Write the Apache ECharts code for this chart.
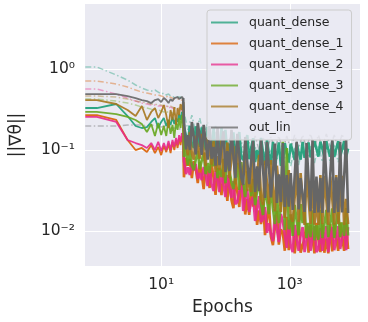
<!DOCTYPE html>
<html>
<head>
<meta charset="utf-8">
<script src="https://cdn.jsdelivr.net/npm/echarts@6/dist/echarts.min.js"></script>
<style>
html, body { margin: 0; padding: 0; background: #fff; }
#main { width: 368px; height: 322px; }
</style>
</head>
<body>
<div id="main"></div>
<script>
var myChart = echarts.init(document.getElementById('main'));

// names in the legend
var names = ['quant_dense', 'quant_dense_1', 'quant_dense_2', 'quant_dense_3', 'quant_dense_4', 'out_lin'];
var colors = ['#1b9e77', '#d95f02', '#e7298a', '#66a61e', '#a6761d', '#666666'];

// epoch 0 is clipped to the left edge of the log axis, so first point sits on it
var earlyEpochs = [0.66, 1, 2, 3, 4, 5, 6, 7, 8, 9, 10, 11, 12, 13, 14, 15, 16, 17, 18, 19, 20, 21, 22];
var denseEpochs = [22.6, 24.3, 26.0, 27.9, 30.0, 32.2, 34.5, 37.1, 39.8, 42.7,
    45.8, 49.2, 52.8, 56.7, 60.8, 65.3, 70.1, 75.2, 80.7, 86.7,
    93.0, 99.9, 107, 115, 124, 133, 142, 153, 164, 176,
    189, 203, 218, 234, 251, 269, 289, 310, 333, 357,
    384, 412, 442, 474, 509, 547, 587, 630, 676, 726,
    779, 836, 898, 964, 1034, 1110, 1192, 1279, 1373, 1474,
    1582, 1698, 1823, 1957, 2100, 2255, 2420, 2598, 2789, 2993,
    3213, 3449, 3702, 3974, 4265, 4578, 4914, 5275, 5662, 6078,
    6524, 7003, 7517, 8069];

// solid lines
var qdEarly = [0.330, 0.330, 0.370, 0.263, 0.198, 0.187, 0.192, 0.222, 0.248, 0.187, 0.222, 0.248, 0.198, 0.235, 0.204, 0.256, 0.209, 0.248, 0.222, 0.278, 0.235, 0.295, 0.270];
var q1Early = [0.270, 0.270, 0.235, 0.133, 0.100, 0.106, 0.0944, 0.115, 0.0917, 0.109, 0.0866, 0.112, 0.0944, 0.119, 0.0917, 0.126, 0.100, 0.133, 0.106, 0.141, 0.115, 0.149, 0.133];
var q2Early = [0.256, 0.256, 0.222, 0.133, 0.122, 0.115, 0.106, 0.122, 0.100, 0.126, 0.097, 0.122, 0.100, 0.129, 0.100, 0.133, 0.109, 0.141, 0.115, 0.153, 0.126, 0.162, 0.145];
var q3Early = [0.295, 0.295, 0.278, 0.256, 0.235, 0.209, 0.167, 0.209, 0.149, 0.216, 0.153, 0.198, 0.149, 0.235, 0.158, 0.204, 0.141, 0.222, 0.177, 0.248, 0.187, 0.270, 0.204];
var q4Early = [0.414, 0.414, 0.370, 0.312, 0.263, 0.349, 0.235, 0.295, 0.330, 0.248, 0.295, 0.359, 0.270, 0.187, 0.312, 0.235, 0.339, 0.204, 0.330, 0.270, 0.370, 0.312, 0.391];
var olEarly = [0.491, 0.491, 0.491, 0.464, 0.438, 0.414, 0.402, 0.380, 0.414, 0.426, 0.391, 0.438, 0.414, 0.380, 0.426, 0.402, 0.438, 0.414, 0.451, 0.426, 0.438, 0.451, 0.438];

var qdDense = [0.192, 0.151, 0.115, 0.198, 0.118, 0.106, 0.196, 0.145, 0.109, 0.190,
    0.139, 0.100, 0.192, 0.135, 0.102, 0.185, 0.094, 0.133, 0.096, 0.187,
    0.124, 0.177, 0.087, 0.120, 0.089, 0.165, 0.080, 0.116, 0.167, 0.082,
    0.0752, 0.107, 0.153, 0.0770, 0.105, 0.140, 0.0711, 0.100, 0.0720, 0.141,
    0.093, 0.0653, 0.133, 0.090, 0.0660, 0.126, 0.0635, 0.089, 0.124, 0.0640,
    0.0691, 0.122, 0.092, 0.0700, 0.120, 0.096, 0.0752, 0.122, 0.094, 0.0760,
    0.126, 0.080, 0.100, 0.124, 0.081, 0.082, 0.129, 0.103, 0.083, 0.127,
    0.103, 0.082, 0.129, 0.101, 0.083, 0.128, 0.082, 0.103, 0.129, 0.084,
    0.102, 0.129, 0.082, 0.104];
var q1Dense = [0.0460, 0.080, 0.064, 0.078, 0.0451, 0.0731, 0.058, 0.0391, 0.0711, 0.050,
    0.0330, 0.0672, 0.050, 0.0340, 0.0700, 0.045, 0.0280, 0.0600, 0.040, 0.0278,
    0.0535, 0.038, 0.0235, 0.0550, 0.0240, 0.0192, 0.0451, 0.030, 0.0198, 0.0470,
    0.0370, 0.0160, 0.025, 0.0158, 0.0359, 0.020, 0.0300, 0.0119, 0.018, 0.0122,
    0.0228, 0.0089, 0.014, 0.0215, 0.0085, 0.0067, 0.0110, 0.0178, 0.0068, 0.0105,
    0.0095, 0.0057, 0.0150, 0.0058, 0.0145, 0.0135, 0.0053, 0.0085, 0.0129, 0.0054,
    0.0053, 0.0082, 0.0125, 0.0054, 0.0120, 0.0080, 0.0053, 0.0126, 0.0078, 0.0055,
    0.0124, 0.0054, 0.0081, 0.0053, 0.0122, 0.0056, 0.0125, 0.0082, 0.0057, 0.0128,
    0.0083, 0.0057, 0.0126, 0.0060];
var q2Dense = [0.0731, 0.0505, 0.061, 0.0491, 0.0711, 0.056, 0.0672, 0.0439, 0.052, 0.0426,
    0.0617, 0.048, 0.0359, 0.0635, 0.0380, 0.0312, 0.0550, 0.042, 0.0303, 0.0566,
    0.037, 0.0263, 0.0491, 0.034, 0.0256, 0.0414, 0.0215, 0.0228, 0.031, 0.0426,
    0.0177, 0.025, 0.0330, 0.0172, 0.023, 0.0263, 0.0133, 0.019, 0.0270, 0.0129,
    0.014, 0.0198, 0.0095, 0.0125, 0.0092, 0.0075, 0.0158, 0.0105, 0.0073, 0.0162,
    0.0133, 0.0090, 0.0062, 0.0137, 0.0065, 0.0055, 0.0119, 0.0080, 0.0057, 0.0088,
    0.0112, 0.0055, 0.0078, 0.0115, 0.0057, 0.0082, 0.0115, 0.0055, 0.0060, 0.0109,
    0.0057, 0.0080, 0.0115, 0.0055, 0.0085, 0.0112, 0.0058, 0.0079, 0.0115, 0.0060,
    0.0080, 0.0118, 0.0058, 0.0112];
var q3Dense = [0.082, 0.104, 0.0650, 0.100, 0.0635, 0.0566, 0.076, 0.098, 0.0580, 0.074,
    0.092, 0.0505, 0.069, 0.0520, 0.094, 0.063, 0.085, 0.0451, 0.060, 0.0464,
    0.078, 0.0391, 0.080, 0.056, 0.0400, 0.0330, 0.048, 0.0691, 0.0321, 0.0711,
    0.039, 0.0263, 0.0550, 0.040, 0.0270, 0.0440, 0.0209, 0.031, 0.0451, 0.0215,
    0.0158, 0.0350, 0.024, 0.0162, 0.0359, 0.019, 0.0122, 0.0295, 0.0125, 0.020,
    0.126, 0.0103, 0.106, 0.0105, 0.016, 0.0087, 0.0210, 0.0135, 0.0089, 0.0215,
    0.0125, 0.0190, 0.0082, 0.0126, 0.0084, 0.0180, 0.0077, 0.0118, 0.0078, 0.0182,
    0.0082, 0.0120, 0.0182, 0.0084, 0.0124, 0.0190, 0.0082, 0.0126, 0.0192, 0.0084,
    0.0128, 0.0087, 0.0192, 0.0088];
var q4Dense = [0.160, 0.118, 0.086, 0.167, 0.090, 0.0760, 0.150, 0.109, 0.0780, 0.158,
    0.096, 0.0640, 0.145, 0.098, 0.0660, 0.130, 0.0540, 0.084, 0.0560, 0.133,
    0.0460, 0.075, 0.124, 0.0451, 0.078, 0.112, 0.0375, 0.108, 0.064, 0.0370,
    0.056, 0.100, 0.0310, 0.054, 0.0303, 0.085, 0.0260, 0.047, 0.087, 0.0256,
    0.0210, 0.0740, 0.040, 0.0215, 0.0752, 0.034, 0.0175, 0.0640, 0.035, 0.0172,
    0.0560, 0.0145, 0.029, 0.0566, 0.0150, 0.0130, 0.026, 0.0530, 0.0129, 0.0520,
    0.024, 0.0119, 0.0491, 0.025, 0.0122, 0.0480, 0.0120, 0.024, 0.0119, 0.0491,
    0.0122, 0.0480, 0.024, 0.0119, 0.0470, 0.025, 0.0120, 0.0491, 0.0122, 0.024,
    0.0480, 0.0119, 0.025, 0.0122];
var olDense = [0.230, 0.102, 0.153, 0.100, 0.222, 0.139, 0.088, 0.216, 0.145, 0.087,
    0.204, 0.124, 0.0760, 0.198, 0.0780, 0.109, 0.0640, 0.187, 0.0650, 0.112,
    0.170, 0.0535, 0.097, 0.0550, 0.177, 0.084, 0.0451, 0.158, 0.088, 0.0460,
    0.0370, 0.145, 0.073, 0.0380, 0.075, 0.130, 0.0303, 0.063, 0.0310, 0.133,
    0.057, 0.0256, 0.126, 0.060, 0.0260, 0.052, 0.120, 0.0222, 0.050, 0.0228,
    0.122, 0.0198, 0.049, 0.0200, 0.052, 0.0182, 0.048, 0.126, 0.0185, 0.045,
    0.046, 0.0172, 0.122, 0.044, 0.0175, 0.133, 0.0167, 0.047, 0.0170, 0.045,
    0.0167, 0.129, 0.047, 0.0170, 0.050, 0.133, 0.0167, 0.046, 0.0172, 0.126,
    0.0170, 0.047, 0.133, 0.0167];

// dash-dot lines (lighter)
var qdDashEarly = [1.06, 1.06, 0.843, 0.731, 0.635, 0.583, 0.551, 0.535, 0.551, 0.520, 0.491, 0.505, 0.478, 0.491, 0.464, 0.478, 0.451, 0.464, 0.451, 0.438, 0.451, 0.438, 0.426];
var q1DashEarly = [0.711, 0.711, 0.653, 0.600, 0.551, 0.520, 0.505, 0.491, 0.478, 0.478, 0.464, 0.451, 0.464, 0.438, 0.451, 0.438, 0.426, 0.438, 0.426, 0.414, 0.426, 0.414, 0.402];
var q2DashEarly = [0.566, 0.566, 0.491, 0.438, 0.402, 0.380, 0.370, 0.359, 0.359, 0.349, 0.349, 0.339, 0.349, 0.330, 0.339, 0.330, 0.320, 0.330, 0.312, 0.320, 0.312, 0.303, 0.295];
var q3DashEarly = [0.426, 0.426, 0.402, 0.380, 0.359, 0.339, 0.330, 0.320, 0.312, 0.312, 0.303, 0.295, 0.303, 0.287, 0.295, 0.287, 0.278, 0.287, 0.270, 0.278, 0.270, 0.263, 0.263];
var q4DashEarly = [0.464, 0.464, 0.451, 0.426, 0.402, 0.391, 0.380, 0.370, 0.370, 0.359, 0.359, 0.349, 0.359, 0.339, 0.349, 0.339, 0.330, 0.339, 0.330, 0.320, 0.330, 0.320, 0.312];
var olDashEarly = [0.198, 0.198, 0.198, 0.204, 0.204, 0.204, 0.198, 0.204, 0.198, 0.198, 0.192, 0.198, 0.192, 0.198, 0.187, 0.192, 0.187, 0.192, 0.182, 0.187, 0.182, 0.187, 0.177];
// these two continue past epoch 22, on every other dense epoch
var qdDashDense = [0.295, 0.177, 0.270, 0.162, 0.248, 0.149, 0.222, 0.133, 0.198, 0.119,
    0.177, 0.106, 0.158, 0.094, 0.141, 0.084, 0.126, 0.0752, 0.112, 0.0672,
    0.100, 0.0600, 0.100, 0.0566, 0.100, 0.0600, 0.106, 0.0635, 0.109, 0.0653,
    0.112, 0.0672, 0.115, 0.0691, 0.115, 0.0711, 0.119, 0.0691, 0.119, 0.0711,
    0.115, 0.0731];
var olDashDense = [0.187, 0.133, 0.182, 0.126, 0.177, 0.122, 0.172, 0.115, 0.167, 0.112,
    0.162, 0.109, 0.158, 0.106, 0.153, 0.106, 0.149, 0.103, 0.149, 0.100,
    0.145, 0.100, 0.145, 0.103, 0.149, 0.100, 0.149, 0.103, 0.153, 0.106,
    0.153, 0.106, 0.158, 0.109, 0.153, 0.106, 0.158, 0.109, 0.153, 0.106,
    0.158, 0.109];

var yTicks = [0.01, 0.1, 1];
var xTicks = [10, 1000];

var font = 'DejaVu Sans';
var ink = '#262626';

function pts(epochs, vals) {
    return epochs.map(function (e, i) { return [e, vals[i]]; });
}
var halfEpochs = denseEpochs.filter(function (e, i) { return i % 2 === 0; });

var sup = { '-': '\u207B', '0': '\u2070', '1': '\u00B9', '2': '\u00B2', '3': '\u00B3', '4': '\u2074' };
function powLabel(v) {
    var p = String(Math.round(Math.log10(v)));
    return '10' + p.split('').map(function (c) { return sup[c]; }).join('');
}

var dashEarly = [qdDashEarly, q1DashEarly, q2DashEarly, q3DashEarly, q4DashEarly, olDashEarly];
var dashDense = [qdDashDense, null, null, null, null, olDashDense];
var solidEarly = [qdEarly, q1Early, q2Early, q3Early, q4Early, olEarly];
var solidDense = [qdDense, q1Dense, q2Dense, q3Dense, q4Dense, olDense];

var series = [];
names.forEach(function (n, i) {
    var d = pts(earlyEpochs, dashEarly[i]);
    if (dashDense[i]) d = d.concat(pts(halfEpochs, dashDense[i]));
    series.push({
        name: n + ' (dash)',
        type: 'line',
        data: d,
        symbol: 'none',
        silent: true,
        color: colors[i],
        lineStyle: { width: 1.5, opacity: 0.4, type: [6, 2.5, 1.5, 2.5] }
    });
});
// each run is drawn in two parts: the calm start and the noisy tail
names.forEach(function (n, i) {
    series.push({
        name: n,
        type: 'line',
        data: pts(earlyEpochs, solidEarly[i]),
        symbol: 'none',
        silent: true,
        color: colors[i],
        lineStyle: { width: 1.8, opacity: 0.9 }
    });
});
names.forEach(function (n, i) {
    var last = earlyEpochs.length - 1;
    series.push({
        name: n,
        type: 'line',
        data: [[earlyEpochs[last], solidEarly[i][last]]].concat(pts(denseEpochs, solidDense[i])),
        symbol: 'none',
        silent: true,
        color: colors[i],
        lineStyle: { width: 2.6, opacity: i === 5 ? 1 : 0.9, join: 'bevel' }
    });
});

var option = {
    animation: false,
    backgroundColor: '#ffffff',
    grid: {
        left: 82, right: 8, top: 4, bottom: 56,
        show: true, backgroundColor: '#EAEAF2', borderWidth: 0
    },
    legend: {
        data: names,
        orient: 'vertical',
        left: 207, top: 10,
        padding: [5, 8, 5, 4],
        itemGap: 6,
        itemWidth: 27, itemHeight: 2,
        icon: 'rect',
        itemStyle: { opacity: 0.75 },
        backgroundColor: 'rgba(234,234,242,0.8)',
        borderColor: '#cccccc', borderWidth: 1, borderRadius: 3,
        textStyle: { fontFamily: font, fontSize: 12.5, color: ink, padding: [0, 0, 0, 6], lineHeight: 15 }
    },
    xAxis: {
        type: 'log', logBase: 10,
        min: 0.6535, max: 12360,
        name: 'Epochs', nameLocation: 'middle', nameGap: 33,
        nameTextStyle: { fontFamily: font, fontSize: 17, color: ink },
        axisLine: { show: false },
        axisTick: { show: false, customValues: xTicks },
        axisLabel: { customValues: xTicks, formatter: powLabel, fontFamily: font, fontSize: 15.5, color: ink, margin: 11 },
        splitLine: { show: true, lineStyle: { color: '#ffffff', width: 1 } }
    },
    yAxis: {
        type: 'log', logBase: 10,
        min: 0.0037, max: 6.35,
        name: '||\u2207\u03B8||', nameLocation: 'middle', nameGap: 60, nameRotate: 90,
        nameTextStyle: { fontFamily: font, fontSize: 17, color: ink },
        axisLine: { show: false },
        axisTick: { show: false, customValues: yTicks },
        axisLabel: { customValues: yTicks, formatter: powLabel, fontFamily: font, fontSize: 15.5, color: ink, margin: 10 },
        splitLine: { show: true, lineStyle: { color: '#ffffff', width: 1 } }
    },
    series: series
};

myChart.setOption(option);
</script>
</body>
</html>
